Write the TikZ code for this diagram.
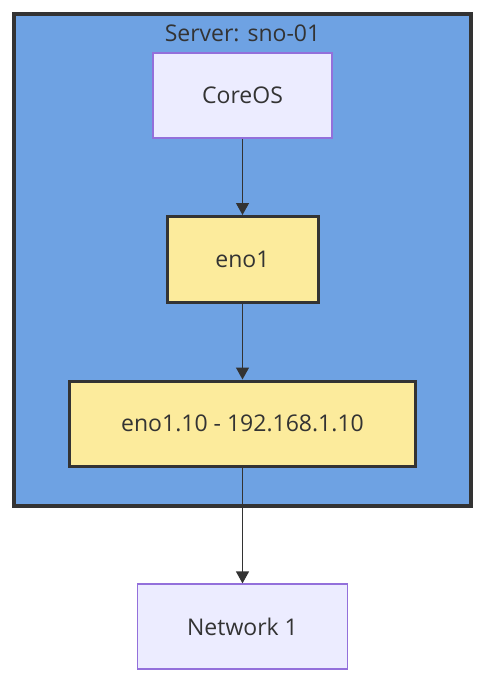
\documentclass[tikz,border=0pt]{standalone}
\usepackage{fontspec}
\setmainfont{Open Sans}
\usetikzlibrary{positioning}
\usetikzlibrary{arrows.meta}
\definecolor{srvblue}{RGB}{110,162,227}
\definecolor{lavfill}{RGB}{236,236,255}
\definecolor{lavline}{RGB}{147,112,219}
\definecolor{ifyellow}{RGB}{252,235,156}
\definecolor{darkline}{RGB}{51,51,51}
\tikzset{
    server/.style = {rectangle, line width=4pt, draw=darkline, fill=srvblue},
    osnode/.style = {rectangle, line width=1.2pt, draw=lavline, fill=lavfill, font=\fontsize{23}{27}\selectfont, text=darkline},
    ifnode/.style = {rectangle, line width=3pt, draw=darkline, fill=ifyellow, font=\fontsize{23}{27}\selectfont, text=darkline},
    edgen/.style = {-{Triangle[width=13pt,length=12pt]}, line width=1.3pt, darkline},
    every picture/.style={x=1pt,y=-1pt}
}

\begin{document}
\begin{tikzpicture}
\useasboundingbox (0,0) rectangle (483,688);
\node[server, minimum width=457pt, minimum height=492pt] at (242.5, 259.5) (srv) {};
\node[font=\fontsize{23}{27}\selectfont, text=darkline] at (242.5, 33) (title) {Server: sno-01};

\node[osnode, minimum width=179pt, minimum height=85pt] at (242.5,  95.5) (coreos) {CoreOS};
\node[ifnode, minimum width=151pt, minimum height=86pt] at (242.5, 259.5) (eno1) {eno1};
\node[ifnode, minimum width=346pt, minimum height=85pt] at (242.5, 423.5) (vlan) {eno1.10 - 192.168.1.10};
\node[osnode, minimum width=210pt, minimum height=85pt] at (242.5, 626.5) (net) {Network 1};

\draw[edgen] (coreos) -- (eno1);
\draw[edgen] (eno1) -- (vlan);
\draw[edgen] (vlan) -- (net);

\end{tikzpicture}
\end{document}
